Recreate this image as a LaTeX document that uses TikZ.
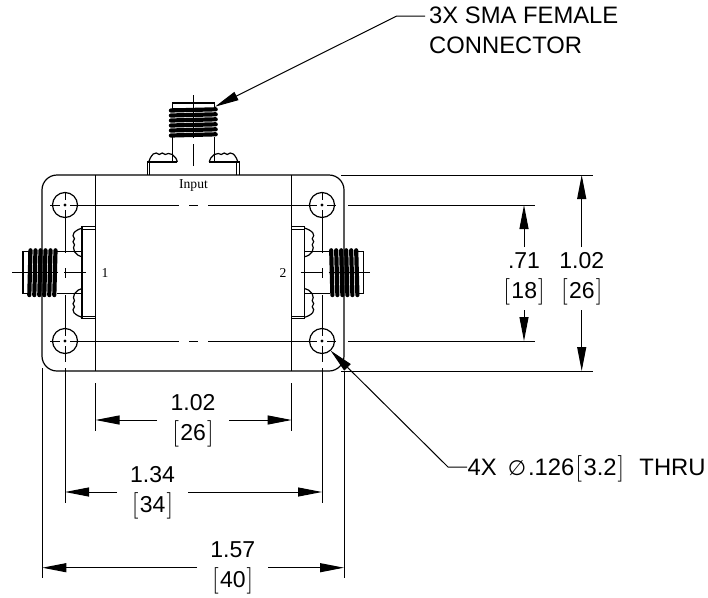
\documentclass[tikz,border=0pt]{standalone}
\usepackage{fontspec}
\setsansfont{Liberation Sans}
\newfontfamily\serifsm{Liberation Serif}
\newfontfamily\phifont{DejaVu Sans}
\usetikzlibrary{arrows.meta}
\newcommand{\lbk}{{\rmfamily\fontsize{26.5}{30}\selectfont[}\kern1.5pt}
\newcommand{\rbk}{\kern1pt{\rmfamily\fontsize{26.5}{30}\selectfont]}}
\tikzset{
  outline/.style={line width=1.2pt,black},
  thinline/.style={line width=1pt,black},
  dimline/.style={line width=1pt,black},
  tipped/.style={dimline,-{Triangle[length=24pt,width=9pt]}},
  dimtext/.style={font=\sffamily\fontsize{23}{30}\selectfont,align=center,inner sep=0pt,anchor=center,text=black},
  notetext/.style={font=\sffamily\fontsize{23.8}{29.5}\selectfont,align=left,inner sep=0pt,text=black},
  smalltext/.style={font=\serifsm\fontsize{13.6}{13.6}\selectfont,inner sep=0pt,anchor=base,text=black},
  thread/.style={line width=4.2pt,black,line cap=round},
}
% connector in local axes: first coordinate = distance from the housing wall
\newcommand{\connector}[2]{%
  \draw[outline] (66,-21) rectangle (72,21);
  \draw[outline] (38,-21) -- (13,-21) (38,21) -- (13,21);
  \foreach \s in {1,-1}{
    \draw[outline] (0,\s*46) -- (13,\s*46) -- (13,\s*16)
      (0,\s*43.5) -- (13,\s*43.5);
    \draw[outline] plot[smooth,tension=.7] coordinates {(13,\s*16) (17,\s*17.5) (20.5,\s*21) (21.5,\s*25) (20.5,\s*28) (22,\s*31) (20.5,\s*34) (22,\s*37) (21,\s*40) (17,\s*43) (13,\s*44.5)};
  }
  #1
  \foreach \u in {39.5,44.5,49.5,54.5,59.5,64.5}{
    \draw[thread] (\u,-22.4) -- (\u+1.2,22.4);
  }
  \draw[thinline] (9,0) -- (31,0) (37,0) -- (#2,0);
}
\begin{document}
\begin{tikzpicture}[x=1pt,y=-1pt]
\useasboundingbox (0,0) rectangle (708,597);
% housing
\draw[outline,rounded corners=15pt] (42,175) rectangle (344,371);
\draw[outline] (95.5,175) -- (95.5,371) (291.7,175) -- (291.7,371);
% connectors
\begin{scope}[shift={(193.3pt,-175pt)},x={(0pt,1pt)},y={(1pt,0pt)}]
  \connector{}{80}
\end{scope}
\begin{scope}[shift={(95pt,-272.7pt)},x={(-1pt,0pt)},y={(0pt,-1pt)}]
  \connector{\draw[outline] (13,-16) -- (13,16);}{83}
\end{scope}
\begin{scope}[shift={(291.7pt,-272.7pt)},x={(1pt,0pt)},y={(0pt,-1pt)}]
  \connector{\draw[outline] (13,-16) -- (13,16);}{78}
\end{scope}
% mounting holes and centre lines
\foreach \hx/\hy/\hn in {65/205/a,322/205/b,65/341/c,322/341/d}{
  \node[circle,draw,line width=1.2pt,minimum size=25pt,inner sep=0pt] (hole\hn) at (\hx,\hy) {};
  \fill (\hx,\hy) circle (1.6pt);
  \draw[thinline] (\hx-15,\hy) -- (\hx-5,\hy) (\hx,\hy-13) -- (\hx,\hy-5);
}
\foreach \hy in {205,341}{
  \draw[thinline] (70,\hy) -- (179,\hy) (189,\hy) -- (198,\hy) (208,\hy) -- (317,\hy) (327,\hy) -- (336,\hy);
}
\foreach \hx in {65,322}{
  \draw[thinline] (\hx,210) -- (\hx,253) (\hx,268) -- (\hx,278) (\hx,295) -- (\hx,336) (\hx,346) -- (\hx,362);
}
% port labels
\node[smalltext] (lblin) at (193.5,188) {Input};
\node[smalltext] (lblone) at (105,277) {1};
\node[smalltext] (lbltwo) at (283,277) {2};
% extension lines
\draw[dimline] (341,175) -- (593,175) (341,371) -- (593,371);
\draw[dimline] (348,205) -- (535,205) (348,341) -- (535,341);
\draw[dimline] (95.5,383) -- (95.5,431) (291.7,383) -- (291.7,431);
\draw[dimline] (65,368) -- (65,503) (322,368) -- (322,503);
\draw[dimline] (42.3,368) -- (42.3,578) (344,371) -- (344,578);
% dimension texts
\node[dimtext] (dimA) at (524,279.2) {.71\\\lbk 18\rbk};
\node[dimtext] (dimB) at (581.7,279.2) {1.02\\\lbk 26\rbk};
\node[dimtext] (dimC) at (193,420.9) {1.02\\\lbk 26\rbk};
\node[dimtext] (dimD) at (152.5,493.2) {1.34\\\lbk 34\rbk};
\node[dimtext] (dimE) at (232.7,568.2) {1.57\\\lbk 40\rbk};
% dimension arrows
\draw[tipped] (524,247) -- (524,205);
\draw[tipped] (524,310) -- (524,341);
\draw[tipped] (581.7,247) -- (581.7,175);
\draw[tipped] (581.7,310) -- (581.7,371);
\draw[tipped] (157,420) -- (95.5,420);
\draw[tipped] (229,420) -- (291.7,420);
\draw[tipped] (117,492) -- (65,492);
\draw[tipped] (188,492) -- (322,492);
\draw[tipped] (197,567.7) -- (42.3,567.7);
\draw[tipped] (268,567.7) -- (344,567.7);
% leaders
\node[notetext,anchor=west] (noteconn) at (429,30.4) {3X SMA FEMALE\\CONNECTOR};
\coordinate (ca) at (425,16);
\coordinate (cb) at (396.7,16);
\coordinate (cc) at (215,106.7);
\draw[tipped] (ca) -- (cb) -- (cc);
\node[notetext,anchor=base west] (notehole) at (467.5,475.7) {4X\hspace{11pt}{\phifont\fontsize{21}{21}\selectfont ∅}\kern2pt.126\kern1pt\lbk 3.2\rbk\kern2pt\ \ THRU};
\coordinate (da) at (467,467);
\coordinate (db) at (448,467);
\coordinate (dc) at (330.5,350.5);
\draw[tipped] (da) -- (db) -- (dc);
\end{tikzpicture}
\end{document}
